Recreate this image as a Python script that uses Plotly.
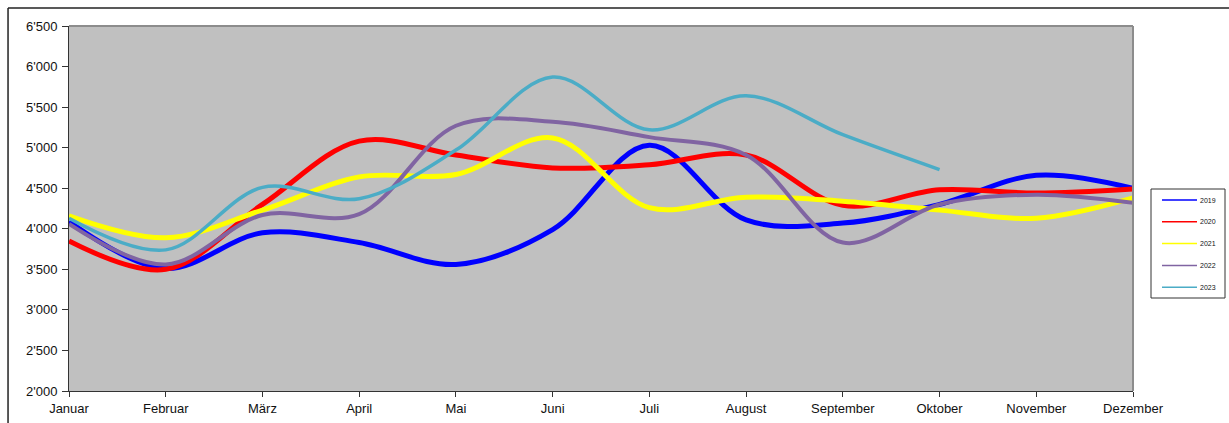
import plotly.graph_objects as go

# Monthly values per year
months = ["Januar", "Februar", "März", "April", "Mai", "Juni",
          "Juli", "August", "September", "Oktober", "November", "Dezember"]

y2019 = [4090, 3510, 3950, 3830, 3560, 3990, 5030, 4110, 4070, 4300, 4660, 4500]
y2020 = [3850, 3500, 4300, 5080, 4910, 4750, 4790, 4910, 4290, 4480, 4440, 4490]
y2021 = [4160, 3890, 4230, 4640, 4670, 5120, 4260, 4390, 4340, 4230, 4130, 4380]
y2022 = [4060, 3560, 4170, 4180, 5270, 5320, 5130, 4910, 3830, 4300, 4420, 4320]
y2023 = [4130, 3740, 4510, 4370, 4970, 5870, 5220, 5640, 5160, 4730]

years = ["2019", "2020", "2021", "2022", "2023"]
series = [y2019, y2020, y2021, y2022, y2023]
colors = ["#0000FF", "#FF0000", "#FFFF00", "#8064A2", "#4BACC6"]
widths = [5, 5, 5, 4, 3.5]

ytick_vals = [2000, 2500, 3000, 3500, 4000, 4500, 5000, 5500, 6000, 6500]
ytick_text = ["2'000", "2'500", "3'000", "3'500", "4'000", "4'500",
              "5'000", "5'500", "6'000", "6'500"]

fig = go.Figure()
for name, vals, col, w in zip(years, series, colors, widths):
    fig.add_trace(go.Scatter(
        x=list(range(len(vals))), y=vals, name=name, mode="lines",
        line=dict(color=col, width=w, shape="spline", smoothing=1.0),
        showlegend=False, hoverinfo="skip",
    ))

font = dict(family="Liberation Sans, Arial, sans-serif", size=13, color="#111111")

fig.update_layout(
    width=1229, height=423,
    margin=dict(l=69, r=96, t=26, b=32),
    paper_bgcolor="white",
    plot_bgcolor="#C0C0C0",
    font=font,
    xaxis=dict(
        range=[0, 11], tickmode="array", tickvals=list(range(12)), ticktext=months,
        showgrid=False, zeroline=False, showline=True, linecolor="#333333", linewidth=1,
        ticks="outside", ticklen=5, tickcolor="#333333", tickfont=font,
        ticklabelstandoff=0, automargin=False,
    ),
    yaxis=dict(
        range=[2000, 6500], tickmode="array", tickvals=ytick_vals, ticktext=ytick_text,
        showgrid=False, zeroline=False, showline=True, linecolor="#333333", linewidth=1,
        ticks="outside", ticklen=6, tickcolor="#333333", tickfont=font,
        ticklabelstandoff=2, automargin=False,
    ),
)

# Plot-area frame on the top and right sides
fig.add_shape(type="line", xref="paper", yref="paper", x0=0, x1=1, y0=1, y1=1,
              line=dict(color="#8C8C8C", width=2))
fig.add_shape(type="line", xref="paper", yref="paper", x0=1, x1=1, y0=0, y1=1,
              line=dict(color="#8C8C8C", width=2))

# Outer chart frame (top and left edges)
fig.add_shape(type="line", xref="paper", yref="paper", x0=-0.0573, x1=1.10,
              y0=1.0493, y1=1.0493, line=dict(color="#222222", width=1.5))
fig.add_shape(type="line", xref="paper", yref="paper", x0=-0.0573, x1=-0.0573,
              y0=-0.10, y1=1.0493, line=dict(color="#222222", width=1.5))

# Legend box
px_w, px_h = 1064.0, 365.0
def px(xp):
    return (xp - 69) / px_w
def py(yp):
    return (391 - yp) / px_h

fig.add_shape(type="rect", xref="paper", yref="paper",
              x0=px(1151), x1=px(1225), y0=py(298), y1=py(189),
              line=dict(color="#333333", width=1), fillcolor="white")
for i, (name, col) in enumerate(zip(years, colors)):
    yy = 200 + i * 21.8
    fig.add_shape(type="line", xref="paper", yref="paper",
                  x0=px(1162), x1=px(1197), y0=py(yy), y1=py(yy),
                  line=dict(color=col, width=1.5))
    fig.add_annotation(xref="paper", yref="paper", x=px(1198), y=py(yy),
                       text=name, showarrow=False, xanchor="left", yanchor="middle",
                       font=dict(family="Liberation Sans, Arial, sans-serif", size=7,
                                 color="#111111"))

fig.write_html("out.html")
